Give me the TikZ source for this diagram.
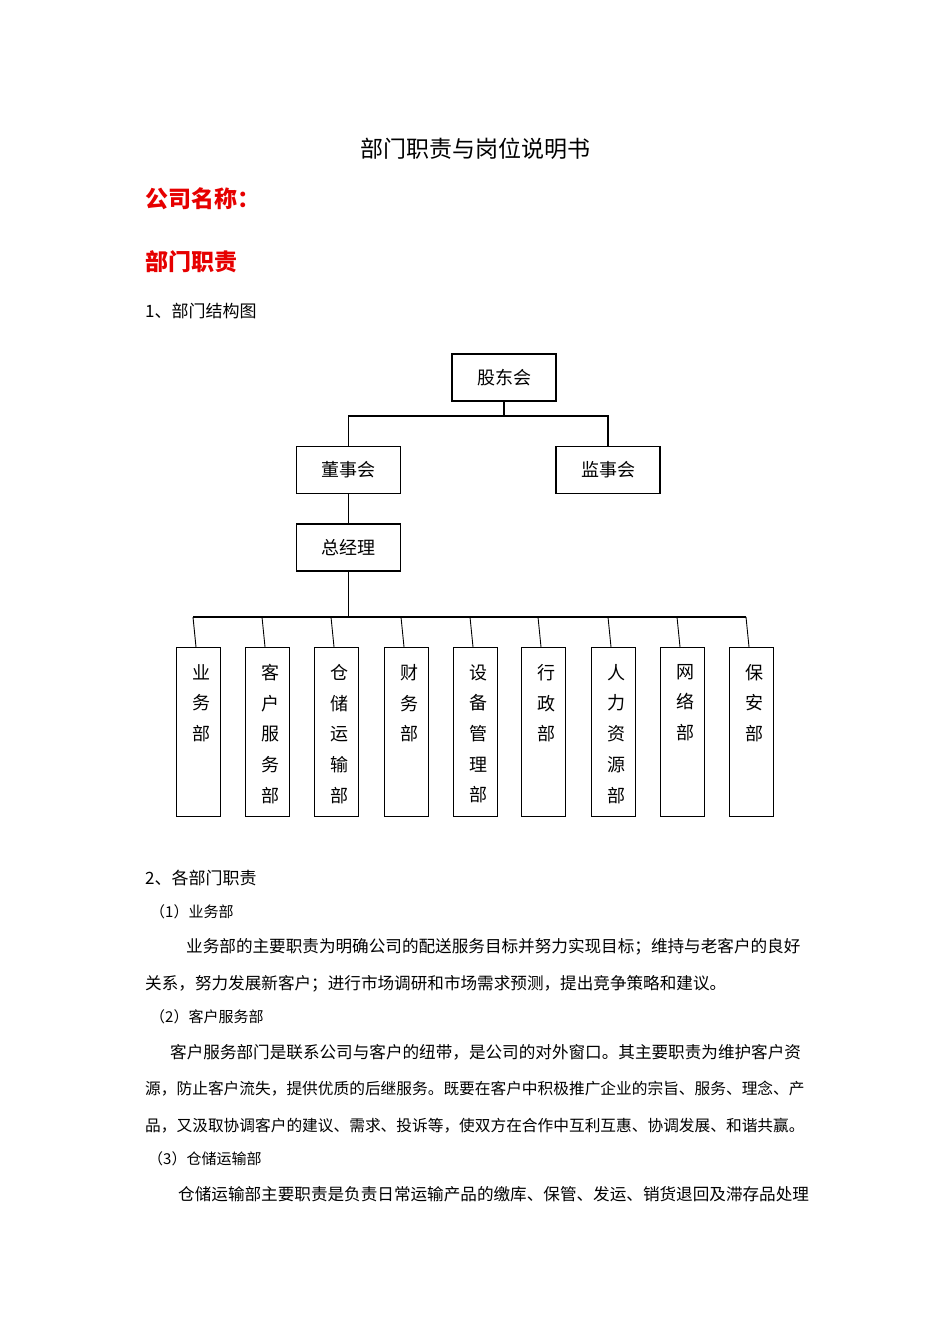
\documentclass[tikz,border=0pt]{standalone}
\usepackage{fontspec}
\setmainfont{Noto Sans CJK SC}
\definecolor{hred}{RGB}{230,0,0}
\begin{document}
\begin{tikzpicture}[x=1pt,y=-1pt,
  box/.style={draw,line width=1.2pt,minimum width=104pt,minimum height=47pt,inner sep=0pt,font=\fontsize{18}{18}\selectfont},
  dept/.style={draw,line width=0.9pt,minimum width=44pt,minimum height=169pt,inner sep=0pt,anchor=north west},
  ln/.style={line width=1.2pt},
  body/.style={anchor=west,inner sep=0pt,font=\fontsize{16.6}{17}\selectfont},
  bodyn/.style={anchor=west,inner sep=0pt,font=\fontsize{15.7}{16}\selectfont},
  sub/.style={anchor=west,inner sep=0pt,font=\fontsize{15}{16}\selectfont}]
\useasboundingbox (0,0) rectangle (950,1344);
\node[inner sep=0pt,font=\fontsize{23}{24}\selectfont] (title) at (475,149) {部门职责与岗位说明书};
\node[anchor=west,inner sep=0pt,text=hred,font=\fontsize{23}{24}\selectfont\bfseries] (co) at (145,199) {公司名称：};
\node[anchor=west,inner sep=0pt,text=hred,font=\fontsize{23}{24}\selectfont\bfseries] (bm) at (145,262) {部门职责};
\node[anchor=west,inner sep=0pt,font=\fontsize{17}{18}\selectfont] (s1) at (145,311) {1、部门结构图};

\node[box] (gd) at (504,377.5) {股东会};
\node[box] (ds) at (348.5,470) {董事会};
\node[box] (js) at (608,470) {监事会};
\node[box] (zj) at (348.5,547.5) {总经理};
\coordinate (h0) at (504,416);
\draw[ln] (gd.south) -- (h0);
\draw[ln] (ds.north) |- (h0) -| (js.north);
\coordinate (b0) at (348.5,617);
\draw[ln] (ds.south) -- (zj.north);
\draw[ln] (zj.south) -- (b0);
\draw[ln] (193,617) -- (746,617);
\foreach \x/\n/\t in {176/d1/{业\\务\\部},245/d2/{客\\户\\服\\务\\部},314/d3/{仓\\储\\运\\输\\部},384/d4/{财\\务\\部},453/d5/{设\\备\\管\\理\\部},521/d6/{行\\政\\部},591/d7/{人\\力\\资\\源\\部},660/d8/{网\\络\\部},729/d9/{保\\安\\部}}{
  \node[dept] (\n) at (\x,647) {};
  \node[anchor=north,inner sep=0pt,align=center,font=\fontsize{18}{30.7}\selectfont] (\n t) at (\x+25,664) {\t};
  \draw[line width=0.9pt] (\x+17,617) -- (\x+20,647);
}

\node[anchor=west,inner sep=0pt,font=\fontsize{17}{18}\selectfont] (s2) at (145,878) {2、各部门职责};
\node[sub] (p1) at (150,912) {（1）业务部};
\node[body] (l1) at (186,947) {业务部的主要职责为明确公司的配送服务目标并努力实现目标；维持与老客户的良好};
\node[body] (l2) at (145,984) {关系，努力发展新客户；进行市场调研和市场需求预测，提出竞争策略和建议。};
\node[sub] (p2) at (150,1017) {（2）客户服务部};
\node[body] (l3) at (170,1052) {客户服务部门是联系公司与客户的纽带，是公司的对外窗口。其主要职责为维护客户资};
\node[bodyn] (l4) at (145,1089) {源，防止客户流失，提供优质的后继服务。既要在客户中积极推广企业的宗旨、服务、理念、产};
\node[bodyn] (l5) at (145,1126) {品，又汲取协调客户的建议、需求、投诉等，使双方在合作中互利互惠、协调发展、和谐共赢。};
\node[sub] (p3) at (148,1159) {（3）仓储运输部};
\node[body] (l6) at (178,1194) {仓储运输部主要职责是负责日常运输产品的缴库、保管、发运、销货退回及滞存品处理};
\end{tikzpicture}
\end{document}
